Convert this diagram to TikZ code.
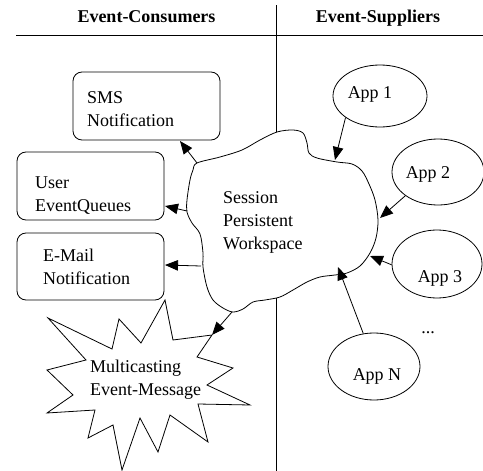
\documentclass[tikz,border=0pt]{standalone}
\usepackage{fontspec}
\setmainfont{Liberation Serif}
\usetikzlibrary{arrows.meta,shapes.geometric}
\begin{document}
\begin{tikzpicture}[x=1pt,y=-1pt,
  every node/.style={font=\fontsize{18}{23}\selectfont, inner sep=0pt},
  thin line/.style={line width=0.8pt},
  box/.style={draw, line width=0.8pt, rounded corners=9pt},
  app/.style={draw, ellipse, line width=0.8pt},
  lbl/.style={anchor=north west, align=left},
  head/.style={anchor=base, font=\fontsize{18}{23}\selectfont\bfseries},
  arr/.style={line width=0.8pt, -{Triangle[length=13pt,width=10.5pt]}},
]
\useasboundingbox (0,0) rectangle (483,471);

% headers and separators
\node[head] (hc) at (146.5,23) {Event-Consumers};
\node[head] (hs) at (378,23) {Event-Suppliers};
\coordinate (hl) at (16,35);
\coordinate (hr) at (483,35);
\coordinate (vt) at (276,5);
\coordinate (vb) at (276,471);
\draw[line width=1pt] (hl) -- (hr);
\draw[thin line] (vt) -- (vb);

% workspace cloud
\draw[thin line, fill=white] plot[smooth cycle, tension=0.55] coordinates {
 (197,163) (220,157) (242,150) (260,140) (277,132) (293,130) (303,133)
 (307,143) (309,153) (317,158) (337,162) (352,164) (362,171) (369,184)
 (375,200) (378,220) (376,238) (370,253) (360,266) (347,273) (335,275)
 (320,277) (307,282) (293,290) (280,297) (265,300) (253,302) (243,309)
 (233,312) (223,308) (213,300) (207,287) (203,267) (203,253) (200,234)
 (192,223) (187,212) (187,200) (190,180) (193,170)};
\node[lbl] (ws) at (223,191) {Session\\Persistent\\Workspace};
\coordinate (w1) at (197,163);
\coordinate (w2) at (187,211);
\coordinate (w3) at (201,266);
\coordinate (w4) at (232,312);
\coordinate (t1) at (335,160);
\coordinate (t2) at (380,218);
\coordinate (t3) at (370,256);
\coordinate (tN) at (338,267);

% consumer boxes
\node[box, minimum width=147pt, minimum height=68pt] (sms) at (146.5,106) {};
\node[lbl] (smst) at (87,91) {SMS\\Notification};
\node[box, minimum width=147pt, minimum height=68pt] (user) at (90.5,186) {};
\node[lbl] (usert) at (35,177) {User\\EventQueues};
\node[box, minimum width=147pt, minimum height=67pt] (mail) at (90.5,266.5) {};
\node[lbl] (mailt) at (43,249) {E-Mail\\Notification};
\coordinate (s1) at (180,141);
\coordinate (u1) at (165,206);
\coordinate (m1) at (165,265);

% multicasting star
\draw[thin line, fill=white] (48,318) -- (112,349) -- (119,319) -- (141,343)
 -- (165,300) -- (173,340) -- (212,335) -- (197,357) -- (233,368) -- (207,385)
 -- (250,405) -- (198,404) -- (208,442) -- (170,415) -- (158,452) -- (140,418)
 -- (122,470) -- (113,425) -- (88,438) -- (95,410) -- (47,413) -- (73,395)
 -- (47,370) -- (86,360) -- cycle;
\coordinate (mc) at (212,335);
\node[lbl] (mct) at (90,360) {Multicasting\\Event-Message};

% supplier apps
\node[app, minimum width=94pt, minimum height=62pt] (app1) at (380,96) {};
\node[anchor=base] (app1t) at (370,98) {App 1};
\node[app, minimum width=92pt, minimum height=66pt] (app2) at (438,172) {};
\node[anchor=base] (app2t) at (428,178) {App 2};
\node[app, minimum width=90pt, minimum height=68pt] (app3) at (437,264) {};
\node[anchor=base] (app3t) at (440,282) {App 3};
\node[app, minimum width=92pt, minimum height=67pt] (appN) at (374,366.5) {};
\node[anchor=base] (appNt) at (377,380) {App N};
\node[anchor=base] (dots) at (428,333) {...};

% connectors
\draw[arr] (app1.212) -- (t1);
\draw[arr] (app2.216) -- (t2);
\draw[arr] (app3.181) -- (t3);
\draw[arr] (appN.108) -- (tN);
\draw[arr] (w1) -- (s1);
\draw[arr] (w2) -- (u1);
\draw[arr] (w3) -- (m1);
\draw[arr] (w4) -- (mc);
\end{tikzpicture}
\end{document}
